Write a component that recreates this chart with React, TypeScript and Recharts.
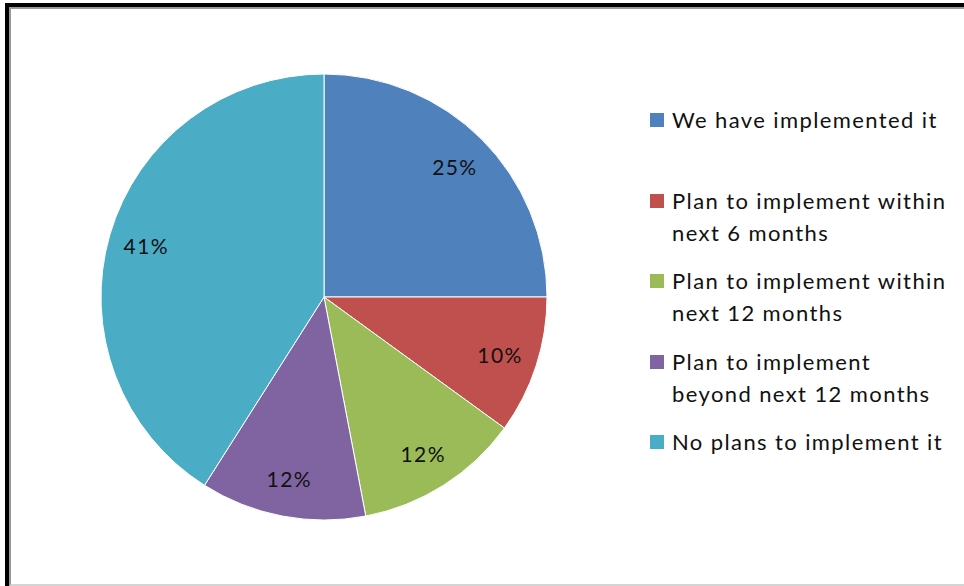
import React from 'react';
import { PieChart, Pie, Cell, Legend } from 'recharts';

const labels = [
  'We have implemented it',
  'Plan to implement within next 6 months',
  'Plan to implement within next 12 months',
  'Plan to implement beyond next 12 months',
  'No plans to implement it',
];
// legend lines as they wrap in the original
const legendLines = [
  ['We have implemented it'],
  ['Plan to implement within', 'next 6 months'],
  ['Plan to implement within', 'next 12 months'],
  ['Plan to implement', 'beyond next 12 months'],
  ['No plans to implement it'],
];
const values = [25, 10, 12, 12, 41];
const colors = ['#4F81BD', '#C0504D', '#9BBB59', '#8064A2', '#4BACC6'];

const data = labels.map((name, i) => ({ name, value: values[i] }));

const FONT = 'Lato, "Open Sans", sans-serif';
const RAD = Math.PI / 180;

function renderLabel(props: any) {
  const { cx, cy, midAngle, outerRadius, value } = props;
  const r = outerRadius * 0.83;
  const x = cx + r * Math.cos(-midAngle * RAD);
  const y = cy + r * Math.sin(-midAngle * RAD);
  return (
    <text
      x={x}
      y={y}
      fill="#111"
      fontSize={21}
      letterSpacing={1.4}
      fontFamily={FONT}
      textAnchor="middle"
      dominantBaseline="central"
    >
      {`${value}%`}
    </text>
  );
}

function renderLegend() {
  return (
    <div style={{ fontFamily: FONT, fontSize: 22, letterSpacing: 1.4, color: '#111' }}>
      {legendLines.map((lines, i) => (
        <div key={i} style={{ position: 'relative', height: 80.5, paddingLeft: 22 }}>
          <span
            style={{
              position: 'absolute',
              left: 0,
              top: 9,
              width: 14,
              height: 14,
              background: colors[i],
            }}
          />
          {lines.map((t, j) => (
            <div key={j} style={{ lineHeight: '32px', whiteSpace: 'nowrap' }}>
              {t}
            </div>
          ))}
        </div>
      ))}
    </div>
  );
}

export default function App() {
  return (
    <div style={{ position: 'absolute', left: 0, top: 0, width: 964, height: 586, background: '#fff' }}>
      <div
        style={{
          position: 'absolute',
          left: 5,
          top: 3,
          width: 959,
          height: 583,
          boxSizing: 'border-box',
          borderLeft: '4px solid #000',
          borderTop: '4px solid #000',
        }}
      >
        <div
          style={{
            width: '100%',
            height: '100%',
            boxSizing: 'border-box',
            borderLeft: '2px solid #999',
            borderTop: '2px solid #999',
            borderBottom: '2px solid #d4d4d4',
          }}
        />
      </div>
      <div style={{ position: 'absolute', left: 0, top: 0 }}>
        <PieChart width={964} height={586} margin={{ top: 0, right: 0, bottom: 0, left: 0 }}>
          <Pie
            data={data}
            dataKey="value"
            nameKey="name"
            cx={324}
            cy={297}
            outerRadius={223}
            startAngle={90}
            endAngle={-270}
            stroke="#fff"
            strokeWidth={1}
            label={renderLabel}
            labelLine={false}
            isAnimationActive={false}
          >
            {data.map((d, i) => (
              <Cell key={d.name} fill={colors[i]} />
            ))}
          </Pie>
          <Legend
            content={renderLegend}
            wrapperStyle={{ left: 650, top: 104, width: 314, right: 'auto', bottom: 'auto' }}
          />
        </PieChart>
      </div>
    </div>
  );
}
